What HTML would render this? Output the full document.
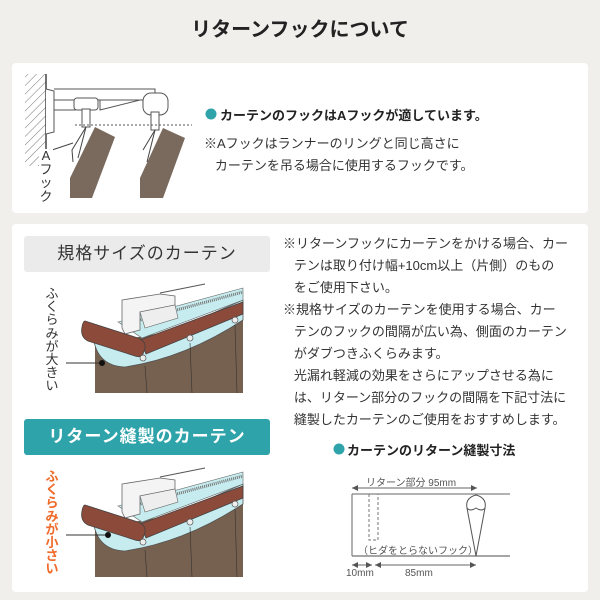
<!DOCTYPE html>
<html><head><meta charset="utf-8"><style>
body{margin:0;width:600px;height:600px;background:#f0efeb;font-family:"Liberation Sans","Noto Sans CJK JP",sans-serif;overflow:hidden;position:relative;color:#333}
.card{position:absolute;background:#fff;border-radius:4px}
.t{position:absolute;white-space:nowrap}
.v{position:absolute;width:14px;font-size:13px;line-height:13.2px;text-align:center;white-space:normal}
</style></head><body>
<div class="t" style="left:0;width:600px;top:13px;text-align:center;font-size:20px;font-weight:bold;color:#222">リターンフックについて</div>
<div class="card" style="left:12px;top:63px;width:576px;height:150px"></div>
<div class="card" style="left:12px;top:224px;width:576px;height:368px"></div>

<svg style="position:absolute;left:0;top:0" width="600" height="600">
<defs>
<pattern id="h" width="6" height="6" patternUnits="userSpaceOnUse" patternTransform="rotate(45)"><line x1="0" y1="0" x2="0" y2="6" stroke="#777" stroke-width="1"/></pattern>
<g id="cur">
 <path d="M95 345 L243 318 L243 393 L95 393 Z" fill="#76604f"/>
 <path d="M93 335 Q96 366 125 367 Q185 358 243 320 L243 300 L140 345 Z" fill="#c6ecef" stroke="#555" stroke-width="0.8"/>
 <path d="M118 322 L243 288 L243 300 L142 338 Z" fill="#c6ecef" stroke="#666" stroke-width="0.6"/>
 <path d="M125 324 L243 292" stroke="#777" stroke-width="3" stroke-dasharray="1,1"/>
 <line x1="160" y1="293" x2="205" y2="284" stroke="#555"/>
 <path d="M122 300 L160 294 L175 296 L175 305 L140 312 L140 330 L125 334 L122 328 Z" fill="#f4f4f4" stroke="#666" stroke-width="0.8"/>
 <path d="M140 312 L175 305 L178 318 L145 328 Z" fill="#eee" stroke="#666" stroke-width="0.6"/>
 <path d="M140 340 L243 302 L243 314 L146 354 Z" fill="#8c4a3a" stroke="#444" stroke-width="0.8"/>
 <path d="M85 321 L138 338 Q146 341 145 348 L143 354 Q141 358 135 356 L88 341 Q80 337 82 327 Q83 321 85 321 Z" fill="#8c4a3a" stroke="#444" stroke-width="0.8"/>
 <circle cx="143" cy="358" r="3" fill="#eee" stroke="#555" stroke-width="0.7"/>
 <circle cx="190" cy="338" r="3" fill="#eee" stroke="#555" stroke-width="0.7"/>
 <circle cx="235" cy="320" r="3" fill="#eee" stroke="#555" stroke-width="0.7"/>
 <line x1="145" y1="366" x2="147" y2="393" stroke="#333" stroke-width="0.6"/>
 <line x1="190" y1="343" x2="192" y2="393" stroke="#333" stroke-width="0.6"/>
 <line x1="235" y1="325" x2="237" y2="393" stroke="#333" stroke-width="0.6"/>
</g>
</defs>
<rect x="25" y="74" width="21" height="92" fill="url(#h)"/>
<line x1="46" y1="74" x2="46" y2="166" stroke="#444" stroke-width="1.5"/>
<path d="M46 89 L54 91 L54 132 L46 134" fill="#fff" stroke="#555"/>
<path d="M54 89 L155 89 L155 100 L54 100" fill="none" stroke="#555"/>
<path d="M54 110 L75 110 L75 100 M100 100 L100 110 L140 100" fill="none" stroke="#555"/>
<rect x="74" y="98" width="24" height="12" rx="3" fill="#fff" stroke="#555"/>
<rect x="143" y="93" width="25" height="22" rx="8" fill="#fff" stroke="#555"/>
<rect x="82" y="109" width="8" height="18" fill="#fff" stroke="#555"/>
<rect x="151" y="112" width="8" height="18" fill="#fff" stroke="#555"/>
<line x1="75" y1="125" x2="192" y2="125" stroke="#555" stroke-dasharray="2,2"/>
<path d="M95 127 L115 137 L92 198 L70 198 L70 178 Z" fill="#7a6a5e"/>
<path d="M163 128 L185 138 L163 198 L140 198 L140 178 Z" fill="#7a6a5e"/>
<path d="M86 127 L78 158 M155 130 L147 162" stroke="#444" fill="none"/>
<path d="M86 127 L72 150 L73 162 M155 130 L143 150" stroke="#444" fill="none"/>
<line x1="52" y1="150" x2="73" y2="143" stroke="#444"/>
<circle cx="211" cy="114" r="5.5" fill="#2fa3aa"/>

<use href="#cur"/>
<use href="#cur" transform="translate(0,184)"/>
<line x1="66" y1="363" x2="102" y2="363" stroke="#333"/><circle cx="102" cy="363" r="3" fill="#111"/>
<line x1="66" y1="535" x2="108" y2="535" stroke="#333"/><circle cx="108" cy="535" r="3" fill="#111"/>

<circle cx="339" cy="449" r="5.5" fill="#2fa3aa"/>
<line x1="352" y1="488" x2="477" y2="488" stroke="#666"/>
<path d="M352 488 l6 -3 v6z M477 488 l-6 -3 v6z" fill="#555"/>
<line x1="352" y1="494" x2="510" y2="494" stroke="#666"/>
<line x1="352" y1="494" x2="352" y2="556" stroke="#666"/>
<line x1="352" y1="556" x2="510" y2="556" stroke="#888" stroke-width="1.5"/>
<path d="M369 494 V540 H378 V494" fill="none" stroke="#777" stroke-dasharray="3,2"/>
<path d="M476 495 Q465 498 467 508 Q470 512 476 508 Q482 512 485 508 Q487 498 476 495 Z M467 508 L476 556 L485 508" fill="none" stroke="#555"/>
<line x1="352" y1="565" x2="372" y2="565" stroke="#666"/>
<path d="M352 565 l6 -3 v6z M372 565 l-6 -3 v6z" fill="#555"/>
<line x1="375" y1="565" x2="476" y2="565" stroke="#666"/>
<path d="M375 565 l6 -3 v6z M476 565 l-6 -3 v6z" fill="#555"/>
</svg>

<div class="v" style="left:39px;top:149px;font-size:13px;line-height:13.5px;background:#fff">A<br>フ<br>ッ<br>ク</div>

<div class="t" style="left:220px;top:105px;font-size:13px;font-weight:bold;color:#222">カーテンのフックはAフックが適しています。</div>
<div class="t" style="left:204px;top:133px;font-size:13px;color:#333;line-height:22px">※Aフックはランナーのリングと同じ高さに<br>&nbsp;&nbsp;&nbsp;カーテンを吊る場合に使用するフックです。</div>

<div style="position:absolute;left:24px;top:236px;width:246px;height:36px;background:#ebebeb;border-radius:3px;text-align:center;line-height:36px;font-size:17px;letter-spacing:1px;color:#333">規格サイズのカーテン</div>
<div style="position:absolute;left:24px;top:419px;width:246px;height:36px;background:#2fa3aa;border-radius:3px;text-align:center;line-height:36px;font-size:17px;font-weight:bold;letter-spacing:1px;color:#fff">リターン縫製のカーテン</div>
<div class="v" style="left:45px;top:287px;color:#333">ふくらみが大きい</div>
<div class="v" style="left:45px;top:470px;color:#f06a2a;font-weight:bold">ふくらみが小さい</div>

<div class="t" style="left:283px;top:233px;font-size:13px;line-height:22px;color:#333">※リターンフックにカーテンをかける場合、カー<br>&nbsp;&nbsp;&nbsp;テンは取り付け幅+10cm以上（片側）のもの<br>&nbsp;&nbsp;&nbsp;をご使用下さい。<br>※規格サイズのカーテンを使用する場合、カー<br>&nbsp;&nbsp;&nbsp;テンのフックの間隔が広い為、側面のカーテン<br>&nbsp;&nbsp;&nbsp;がダブつきふくらみます。<br>&nbsp;&nbsp;&nbsp;光漏れ軽減の効果をさらにアップさせる為に<br>&nbsp;&nbsp;&nbsp;は、リターン部分のフックの間隔を下記寸法に<br>&nbsp;&nbsp;&nbsp;縫製したカーテンのご使用をおすすめします。</div>

<div class="t" style="left:347px;top:440px;font-size:13px;font-weight:bold;color:#222">カーテンのリターン縫製寸法</div>
<div class="t" style="left:366px;top:474px;font-size:10px;color:#555">リターン部分 95mm</div>
<div class="t" style="left:358px;top:542px;font-size:10px;color:#555">（ヒダをとらないフック）</div>
<div class="t" style="left:346px;top:568px;font-size:10px;color:#555">10mm</div>
<div class="t" style="left:405px;top:568px;font-size:10px;color:#555">85mm</div>
</body></html>
